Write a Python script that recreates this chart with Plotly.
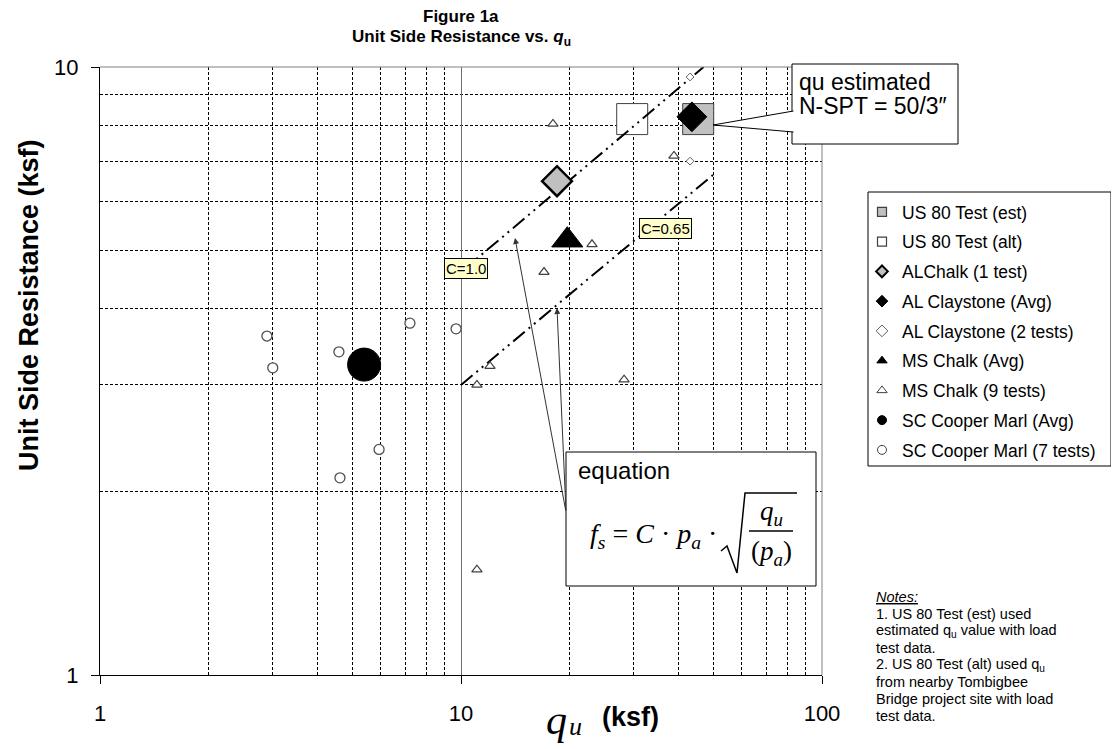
import plotly.graph_objects as go

# ---- data (qu in ksf, fs in ksf) ----
us80_est_qu = [45.4]
us80_est_fs = [8.21]
us80_alt_qu = [29.8]
us80_alt_fs = [8.21]
al_chalk_qu = [18.45]
al_chalk_fs = [6.49]
al_clay_avg_qu = [43.6]
al_clay_avg_fs = [8.28]
al_clay_qu = [43.1, 43.1]
al_clay_fs = [9.63, 7.0]
ms_chalk_avg_qu = [19.7]
ms_chalk_avg_fs = [5.19]
ms_chalk_qu = [17.98, 38.9, 23.06, 16.98, 12.03, 11.07, 28.3, 11.07]
ms_chalk_fs = [8.06, 7.14, 5.11, 4.60, 3.22, 3.00, 3.06, 1.49]
sc_marl_avg_qu = [5.39]
sc_marl_avg_fs = [3.24]
sc_marl_qu = [2.90, 3.01, 4.59, 7.22, 9.69, 5.93, 4.62]
sc_marl_fs = [3.61, 3.20, 3.40, 3.79, 3.71, 2.35, 2.11]

# C lines (end points)
line_c10_qu = [10, 47]
line_c10_fs = [4.6, 10.0]
line_c065_qu = [10, 50]
line_c065_fs = [3.0, 6.65]

legend_names = [
    "US 80 Test (est)",
    "US 80 Test (alt)",
    "ALChalk (1 test)",
    "AL Claystone (Avg)",
    "AL Claystone (2 tests)",
    "MS Chalk (Avg)",
    "MS Chalk (9 tests)",
    "SC Cooper Marl (Avg)",
    "SC Cooper Marl (7 tests)",
]

notes_lines = [
    "<i><u>Notes:</u></i>",
    "1. US 80 Test (est) used",
    "estimated q<sub>u</sub> value with load",
    "test data.",
    "2. US 80 Test (alt) used q<sub>u</sub>",
    "from nearby Tombigbee",
    "Bridge project site with load",
    "test data.",
]

# pixel -> paper helpers (plot area 100..822 x 67..675 of the window)
def px(x):
    return (x - 100) / 722


def py(y):
    return (675 - y) / 608


GRAY = "#C0C0C0"
EDGE = "#404040"

fig = go.Figure()


def add_points(qu, fs, symbol, size, fill, line_color, line_width):
    fig.add_trace(
        go.Scatter(
            x=qu,
            y=fs,
            mode="markers",
            showlegend=False,
            marker=dict(
                symbol=symbol,
                size=size,
                color=fill,
                line=dict(color=line_color, width=line_width),
            ),
        )
    )


add_points(us80_est_qu, us80_est_fs, "square", 31, GRAY, EDGE, 1)
add_points(us80_alt_qu, us80_alt_fs, "square", 31, "white", EDGE, 1)

dash_dot_dot = "15px,5px,2px,5px,2px,5px"
for qu, fs in [(line_c10_qu, line_c10_fs), (line_c065_qu, line_c065_fs)]:
    fig.add_trace(
        go.Scatter(
            x=qu,
            y=fs,
            mode="lines",
            showlegend=False,
            line=dict(color="black", width=2, dash=dash_dot_dot),
        )
    )

add_points(al_clay_qu, al_clay_fs, "diamond", 6, "white", "#606060", 1)
add_points(al_chalk_qu, al_chalk_fs, "diamond", 23, GRAY, "black", 2.5)
add_points(al_clay_avg_qu, al_clay_avg_fs, "diamond", 23, "black", "black", 1)
add_points(ms_chalk_qu, ms_chalk_fs, "triangle-up", 9, "white", EDGE, 1.2)
add_points(ms_chalk_avg_qu, ms_chalk_avg_fs, "triangle-up", 27, "black", "black", 1)
add_points(sc_marl_qu, sc_marl_fs, "circle", 10, "white", "#505050", 1.3)
add_points(sc_marl_avg_qu, sc_marl_avg_fs, "circle", 33, "black", "black", 1)

# legend-only entries with small symbols
legend_styles = [
    ("square", GRAY, EDGE, 1.2),
    ("square", "white", EDGE, 1.2),
    ("diamond", GRAY, "black", 2),
    ("diamond", "black", "black", 1),
    ("diamond", "white", "#606060", 1),
    ("triangle-up", "black", "black", 1),
    ("triangle-up", "white", EDGE, 1),
    ("circle", "black", "black", 1),
    ("circle", "white", EDGE, 1),
]
for name, (sym, fill, lc, lw) in zip(legend_names, legend_styles):
    fig.add_trace(
        go.Scatter(
            x=[None],
            y=[None],
            mode="markers",
            name=name,
            legendgroup=name,
            marker=dict(symbol=sym, size=9, color=fill, line=dict(color=lc, width=lw)),
        )
    )

shapes = []
# gray top/right borders
shapes.append(dict(type="line", xref="paper", yref="paper", x0=0, x1=1, y0=1, y1=1,
                   line=dict(color="#808080", width=1)))
shapes.append(dict(type="line", xref="paper", yref="paper", x0=1, x1=1, y0=0, y1=1,
                   line=dict(color="#808080", width=1)))
# legend box
shapes.append(dict(type="rect", xref="paper", yref="paper",
                   x0=px(868), x1=px(1111), y0=py(466), y1=py(192),
                   line=dict(color="black", width=1)))
# callout box + pointer
shapes.append(dict(type="rect", xref="paper", yref="paper",
                   x0=px(792), x1=px(958), y0=py(144), y1=py(64),
                   fillcolor="white", line=dict(color="black", width=1)))
shapes.append(dict(type="path", xref="paper", yref="paper",
                   path=f"M {px(793.5)},{py(111)} L {px(713)},{py(125)} L {px(793.5)},{py(132)}",
                   fillcolor="white", line=dict(color="black", width=1)))
# equation box
shapes.append(dict(type="rect", xref="paper", yref="paper",
                   x0=px(566), x1=px(816), y0=py(586), y1=py(452),
                   fillcolor="white", line=dict(color="black", width=1)))
# radical sign and fraction bar
shapes.append(dict(type="path", xref="paper", yref="paper",
                   path=(f"M {px(721)},{py(551)} L {px(727)},{py(546)} L {px(737)},{py(573)} "
                         f"L {px(745)},{py(493)} L {px(797)},{py(493)}"),
                   line=dict(color="black", width=1.5)))
shapes.append(dict(type="line", xref="paper", yref="paper",
                   x0=px(749), x1=px(793), y0=py(531), y1=py(531),
                   line=dict(color="black", width=1.3)))

annotations = []


def text(x, y, s, size, family="Arial", xanchor="center", yanchor="middle", **kw):
    annotations.append(dict(
        x=px(x), y=py(y), xref="paper", yref="paper", text=s, showarrow=False,
        xanchor=xanchor, yanchor=yanchor,
        font=dict(size=size, family=family, color="black"), **kw))


text(461, 16, "<b>Figure 1a</b>", 17)
text(461, 38, "<b>Unit Side Resistance vs. <i>q</i><sub>u</sub></b>", 17)
text(29, 305, "<b>Unit Side Resistance (ksf)</b>", 27, textangle=-90)
text(556, 720, "<i>q</i>", 42, family="Liberation Serif")
text(575, 726, "<i>u</i>", 26, family="Liberation Serif")
text(630, 717, "<b>(ksf)</b>", 27)

text(466, 268, "C=1.0", 15, bgcolor="#FFFFCC", bordercolor="black", borderwidth=1, borderpad=1)
text(665, 228, "C=0.65", 15, bgcolor="#FFFFCC", bordercolor="black", borderwidth=1, borderpad=1)

text(797, 82, "qu estimated", 23, xanchor="left")
text(797, 106, "N-SPT = 50/3\u2033", 23, xanchor="left")

text(576, 470, "equation", 24, xanchor="left")
text(719, 535, "<i>f</i><sub><i>s</i></sub> = <i>C</i> \u00b7 <i>p</i><sub><i>a</i></sub> \u00b7", 28,
     family="Liberation Serif", xanchor="right")
text(771, 513, "<i>q</i><sub><i>u</i></sub>", 27, family="Liberation Serif")
text(771, 553, "(<i>p</i><sub><i>a</i></sub>)", 27, family="Liberation Serif")

for i, line in enumerate(notes_lines):
    text(874, 597 + 17 * i, line, 14.5, xanchor="left")

# arrows from the equation box to the C lines
for tip_x, tip_y in [(515, 238), (557, 308)]:
    annotations.append(dict(
        x=px(tip_x), y=py(tip_y), xref="paper", yref="paper", text="",
        showarrow=True, arrowhead=2, arrowsize=1.2, arrowwidth=1, arrowcolor="#333333",
        ax=566 - tip_x, ay=512 - tip_y, axref="pixel", ayref="pixel"))

axis_common = dict(
    type="log",
    ticks="outside",
    ticklen=8,
    tickcolor="black",
    showline=True,
    linecolor="black",
    linewidth=1,
    showgrid=True,
    gridcolor="#707070",
    gridwidth=1,
    zeroline=False,
    tickfont=dict(size=22, family="Arial", color="black"),
)

# the page body has an 8px margin, so the figure is 8px smaller and shifted
fig.update_layout(
    width=1111,
    height=741,
    margin=dict(l=92, r=297, t=59, b=74),
    plot_bgcolor="white",
    paper_bgcolor="white",
    xaxis=dict(
        range=[0, 2],
        tickmode="array",
        tickvals=[1, 10, 100],
        ticktext=["1", "10", "100"],
        ticklabelstandoff=11,
        minor=dict(tickmode="array", tickvals=[2, 3, 4, 5, 6, 7, 8, 9, 20, 30, 40, 50, 60, 70, 80, 90],
                   showgrid=True, gridcolor="black", griddash="3px,2px", gridwidth=1, ticks=""),
        **axis_common,
    ),
    yaxis=dict(
        range=[0, 1],
        tickmode="array",
        tickvals=[1, 10],
        ticktext=["1", "10"],
        ticklabelstandoff=8,
        minor=dict(tickmode="array", tickvals=[2, 3, 4, 5, 6, 7, 8, 9],
                   showgrid=True, gridcolor="black", griddash="3px,2px", gridwidth=1, ticks=""),
        **axis_common,
    ),
    legend=dict(
        x=px(862),
        y=py(194),
        xanchor="left",
        yanchor="top",
        bgcolor="rgba(0,0,0,0)",
        borderwidth=0,
        font=dict(size=17.5, family="Arial", color="black"),
        tracegroupgap=4,
        itemwidth=30,
    ),
    shapes=shapes,
    annotations=annotations,
)

fig.write_html("out.html")
